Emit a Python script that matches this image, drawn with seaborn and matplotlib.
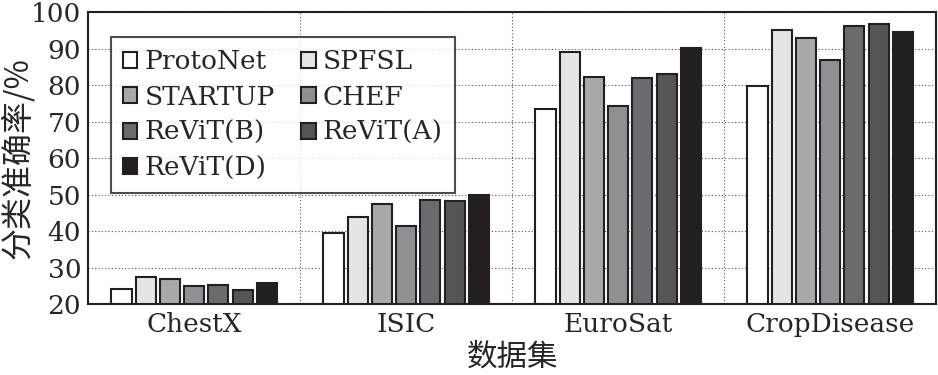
import matplotlib
matplotlib.use("Agg")
import matplotlib.pyplot as plt
import seaborn as sns
import pandas as pd
from matplotlib.ticker import FixedLocator

datasets = ["ChestX", "ISIC", "EuroSat", "CropDisease"]
methods = ["ProtoNet", "SPFSL", "STARTUP", "CHEF", "ReViT(B)", "ReViT(A)", "ReViT(D)"]
protonet = [24.2, 39.6, 73.3, 79.7]
spfsl = [27.3, 43.8, 89.1, 95.0]
startup = [27.0, 47.3, 82.2, 93.0]
chef = [24.9, 41.3, 74.2, 86.8]
revit_b = [25.2, 48.4, 81.9, 96.3]
revit_a = [24.0, 48.3, 83.0, 96.6]
revit_d = [25.7, 49.8, 90.2, 94.4]
colors = ["#ffffff", "#e4e5e7", "#a8a9ab", "#8f9093", "#6a6b6e", "#545557", "#231f20"]
yticks = [20, 30, 40, 50, 60, 70, 80, 90, 100]

series = [protonet, spfsl, startup, chef, revit_b, revit_a, revit_d]
rows = []
for m, vals in zip(methods, series):
    for d, v in zip(datasets, vals):
        rows.append({"dataset": d, "method": m, "acc": v})
df = pd.DataFrame(rows)

sns.set_style("white")
plt.rcParams["font.family"] = ["DejaVu Serif", "Noto Sans CJK SC"]

fig = plt.figure(figsize=(9.38, 3.75), dpi=100)
ax = fig.add_axes([0.094, 0.189, 0.904, 0.779])

sns.barplot(data=df, x="dataset", y="acc", hue="method", order=datasets,
            hue_order=methods, palette=colors, edgecolor="#231f20",
            linewidth=1.5, width=0.8, gap=0.17, ax=ax, saturation=1,
            errorbar=None)

ax.set_ylim(20, 100)
ax.set_xlim(-0.5, 3.5)
ax.set_yticks(yticks)
ax.xaxis.set_minor_locator(FixedLocator([0.5, 1.5, 2.5]))
ax.grid(axis="y", which="major", linestyle=(0, (1, 2)), color="#555555", linewidth=0.8)
ax.grid(axis="x", which="minor", linestyle=(0, (1, 2)), color="#555555", linewidth=0.8)
ax.set_axisbelow(True)
ax.tick_params(axis="both", which="both", length=0, labelsize=19)
ax.tick_params(axis="y", pad=5)
ax.tick_params(axis="x", pad=6)

for s in ax.spines.values():
    s.set_visible(True)
    s.set_color("#231f20")
    s.set_linewidth(1.5)

ax.set_xlabel("数据集", fontsize=22, family=["Noto Sans CJK SC"], labelpad=3)
ax.set_ylabel("分类准确率/%", fontsize=23, family=["Noto Sans CJK SC", "DejaVu Serif"])
ax.yaxis.set_label_coords(-0.064, 0.5)

handles, labels = ax.get_legend_handles_labels()
order = [0, 2, 4, 6, 1, 3, 5]
leg = ax.legend([handles[i] for i in order], [labels[i] for i in order],
                loc="upper left", bbox_to_anchor=(0.027, 0.914), borderaxespad=0,
                ncol=2, fontsize=19, frameon=True, fancybox=False,
                handlelength=0.55, handleheight=0.55, handletextpad=0.27,
                columnspacing=1.0, labelspacing=0.4, borderpad=0.45)
leg.get_frame().set_edgecolor("#231f20")
leg.get_frame().set_linewidth(1.5)

fig.savefig("out.png", dpi=100)
